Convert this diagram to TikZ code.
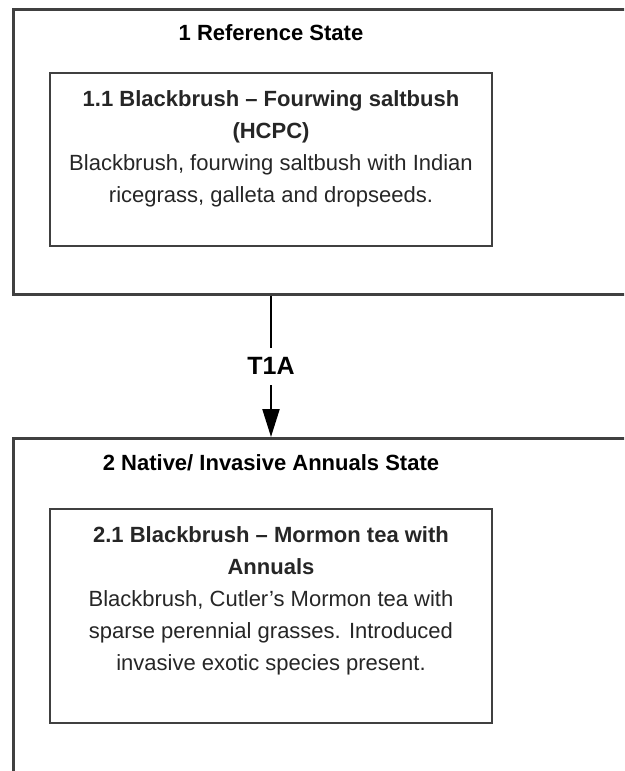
\documentclass[tikz,border=0pt]{standalone}
\usepackage{fontspec}
\setmainfont{Liberation Sans}
\usetikzlibrary{positioning, arrows.meta}
\tikzset{
x=1pt, y=-1pt, % one unit is one pixel of the original, y runs down
>={Triangle[length=28pt, width=17pt]}, % long closed arrow head
state box/.style={draw=black!75, line width=2.6pt, anchor=north west, minimum width=640pt, inner sep=0pt}, % outer state frame
phase box/.style={draw=black!75, line width=2.2pt, minimum width=442pt, minimum height=173pt, inner sep=0pt}, % community phase frame
state title/.style={font={\fontsize{22}{32}\selectfont\bfseries}},
trans label/.style={font={\fontsize{25}{30}\selectfont\bfseries}, fill=white, inner xsep=4pt, inner ysep=10pt},
phase text/.style={font={\fontsize{22}{32}\selectfont}, align=center, anchor=north, inner sep=0pt, text=black!85},
}

\begin{document}
\begin{tikzpicture}
\clip (0,0) rectangle (624,771);
\fill[white] (0,0) rectangle (624,771);
% state 1
\node[state box, minimum height=285pt] (state1) at (12,8) {};
\node[state title] (title1) at (271,33) {1 Reference State};
\node[phase box] (sub1) at (271,159.5) {};
\node[phase text] (sub1text) at (271,90) {\textbf{1.1 Blackbrush – Fourwing saltbush}\\\textbf{(HCPC)}\\Blackbrush, fourwing saltbush with Indian\\ricegrass, galleta and dropseeds.};
% state 2
\node[state box, minimum height=380pt] (state2) at (12,437) {};
\node[state title] (title2) at (271,463) {2 Native/ Invasive Annuals State};
\node[phase box, minimum height=214pt] (sub2) at (271,616) {};
\node[phase text] (sub2text) at (271,526) {\textbf{2.1 Blackbrush – Mormon tea with}\\\textbf{Annuals}\\Blackbrush, Cutler’s Mormon tea with\\sparse perennial grasses. Introduced\\invasive exotic species present.};
% transition
\draw[->, line width=2.2pt] (sub1 |- state1.south) -- node[trans label] (t1a) {T1A} (sub1 |- state2.north);
\end{tikzpicture}
\end{document}
